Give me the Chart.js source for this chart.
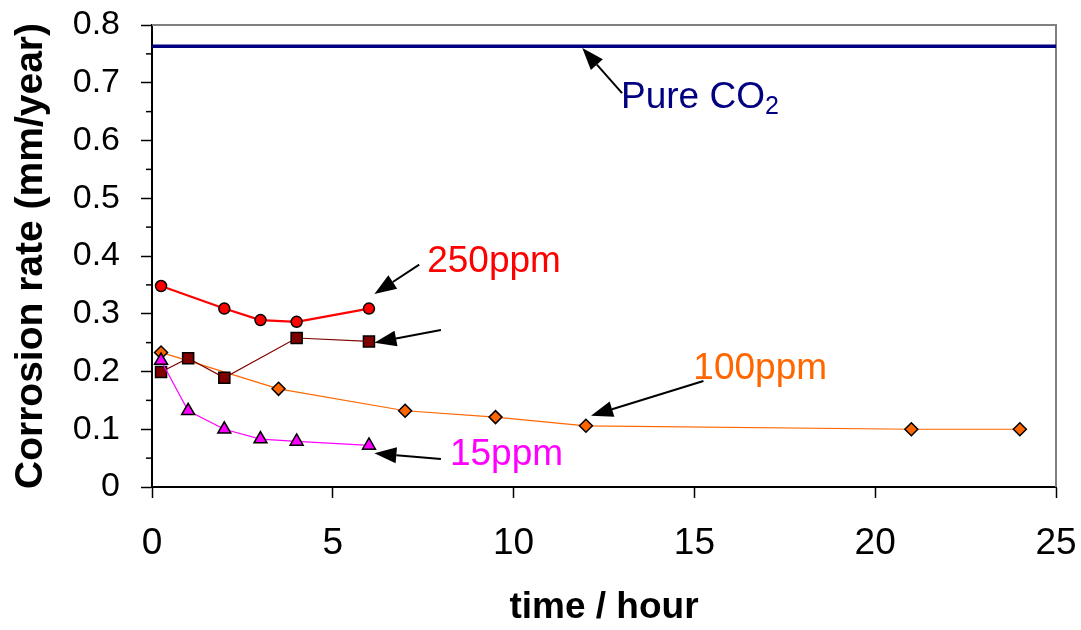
<!DOCTYPE html>
<html>
<head>
<meta charset="utf-8">
<script src="https://cdn.jsdelivr.net/npm/chart.js@4/dist/chart.umd.min.js"></script>
<style>
    html, body { margin: 0; padding: 0; background: #fff; }
    #wrap { width: 1081px; height: 630px; position: relative; }
</style>
</head>
<body>
<div id="wrap"><canvas id="corrosion-chart"></canvas></div>
<script>
// ==========================================
// DATA
// ==========================================
const hoursPure = [0, 25];
const ratePure = [0.763, 0.763];

const hours250 = [0.25, 2, 3, 4, 6];
const rate250 = [0.348, 0.309, 0.289, 0.286, 0.309];

const hoursSquare = [0.25, 1, 2, 4, 6];
const rateSquare = [0.199, 0.223, 0.189, 0.258, 0.252];

const hours100 = [0.25, 3.5, 7, 9.5, 12, 21, 24];
const rate100 = [0.233, 0.170, 0.132, 0.121, 0.106, 0.100, 0.100];

const hours15 = [0.25, 1, 2, 3, 4, 6];
const rate15 = [0.219, 0.132, 0.100, 0.083, 0.079, 0.072];

const xTickValues = [0, 5, 10, 15, 20, 25];
const yTickValues = [0, 0.1, 0.2, 0.3, 0.4, 0.5, 0.6, 0.7, 0.8];

// label text + arrow (data coords)
const noteLabels = [
    { text: 'Pure CO', sub: '2', color: '#000080', x: 12.97, y: 0.656 },
    { text: '250ppm', color: '#FF0000', x: 7.61, y: 0.372 },
    { text: '100ppm', color: '#FF6600', x: 14.97, y: 0.187 },
    { text: '15ppm', color: '#FF00FF', x: 8.24, y: 0.038 }
];
const noteArrows = [
    { from: [13.0, 0.682], to: [11.9, 0.760] },
    { from: [7.39, 0.385], to: [6.15, 0.334] },
    { from: [7.99, 0.272], to: [6.15, 0.250] },
    { from: [15.25, 0.1835], to: [12.14, 0.1235] },
    { from: [7.99, 0.0485], to: [6.15, 0.0584] }
];

const toPoints = (xs, ys) => xs.map((x, i) => ({ x: x, y: ys[i] }));
const FONT = "'Liberation Sans', Arial, sans-serif";

// scale box sizes fixed so the plot area lands where the picture has it
function fixBox(s, w, h) {
    if (w) s.width = w;
    if (h) s.height = h;
    s.paddingLeft = 0; s.paddingRight = 0; s.paddingTop = 0; s.paddingBottom = 0;
}

// ==========================================
// PLUGIN: frame, minor ticks, arrows, labels
// ==========================================
const extrasPlugin = {
    id: 'extras',
    beforeDatasetsDraw(chart) {
        const { ctx, chartArea: a } = chart;
        ctx.save();
        ctx.strokeStyle = '#808080';
        ctx.lineWidth = 2;
        ctx.beginPath();
        ctx.moveTo(a.left, a.top);
        ctx.lineTo(a.right, a.top);
        ctx.lineTo(a.right, a.bottom);
        ctx.stroke();

        // minor ticks on y axis
        const ys = chart.scales.y;
        ctx.strokeStyle = '#000';
        ctx.lineWidth = 1.5;
        for (let i = 0; i < yTickValues.length - 1; i++) {
            const py = ys.getPixelForValue((yTickValues[i] + yTickValues[i + 1]) / 2);
            ctx.beginPath();
            ctx.moveTo(a.left - 6, py);
            ctx.lineTo(a.left, py);
            ctx.stroke();
        }
        ctx.restore();
    },
    afterDatasetsDraw(chart) {
        const { ctx } = chart;
        const xs = chart.scales.x, ys = chart.scales.y;
        ctx.save();

        noteArrows.forEach(ar => {
            const x1 = xs.getPixelForValue(ar.from[0]), y1 = ys.getPixelForValue(ar.from[1]);
            const x2 = xs.getPixelForValue(ar.to[0]), y2 = ys.getPixelForValue(ar.to[1]);
            const ang = Math.atan2(y2 - y1, x2 - x1);
            const headLen = 22, headW = 8;
            const bx = x2 - headLen * Math.cos(ang), by = y2 - headLen * Math.sin(ang);
            ctx.strokeStyle = '#000';
            ctx.lineWidth = 2;
            ctx.beginPath();
            ctx.moveTo(x1, y1);
            ctx.lineTo(bx, by);
            ctx.stroke();
            ctx.fillStyle = '#000';
            ctx.beginPath();
            ctx.moveTo(x2, y2);
            ctx.lineTo(bx + headW * Math.sin(ang), by - headW * Math.cos(ang));
            ctx.lineTo(bx - headW * Math.sin(ang), by + headW * Math.cos(ang));
            ctx.closePath();
            ctx.fill();
        });

        ctx.textAlign = 'left';
        ctx.textBaseline = 'alphabetic';
        noteLabels.forEach(lb => {
            const px = xs.getPixelForValue(lb.x), py = ys.getPixelForValue(lb.y);
            ctx.fillStyle = lb.color;
            ctx.font = '37px ' + FONT;
            ctx.fillText(lb.text, px, py);
            if (lb.sub) {
                const w = ctx.measureText(lb.text).width;
                ctx.font = '25px ' + FONT;
                ctx.fillText(lb.sub, px + w, py + 6);
            }
        });
        ctx.restore();
    }
};

// ==========================================
// CHART
// ==========================================
const ctx = document.getElementById('corrosion-chart').getContext('2d');
const chart = new Chart(ctx, {
    type: 'line',
    data: {
        datasets: [
            { label: 'Pure CO2', data: toPoints(hoursPure, ratePure), borderColor: '#000080', borderWidth: 3.5, pointRadius: 0 },
            { label: '250ppm', data: toPoints(hours250, rate250), borderColor: '#FF0000', borderWidth: 2.2,
              pointStyle: 'circle', pointRadius: 5.5, pointBackgroundColor: '#FF0000', pointBorderColor: '#000', pointBorderWidth: 1.5 },
            { label: '15ppm', data: toPoints(hours15, rate15), borderColor: '#FF00FF', borderWidth: 1.2,
              pointStyle: 'triangle', pointRadius: 7.5, pointBackgroundColor: '#FF00FF', pointBorderColor: '#000', pointBorderWidth: 1.5 },
            { label: 'square', data: toPoints(hoursSquare, rateSquare), borderColor: '#800000', borderWidth: 1.2,
              pointStyle: 'rect', pointRadius: 7.8, pointBackgroundColor: '#800000', pointBorderColor: '#000', pointBorderWidth: 1.5 },
            { label: '100ppm', data: toPoints(hours100, rate100), borderColor: '#FF6600', borderWidth: 1.2,
              pointStyle: 'rectRot', pointRadius: 6.5, pointBackgroundColor: '#FF6600', pointBorderColor: '#000', pointBorderWidth: 1.5 }
        ]
    },
    options: {
        responsive: true, maintainAspectRatio: false,
        animation: false,
        layout: { padding: { left: 0, right: 25, top: 25, bottom: 0 } },
        plugins: { legend: { display: false }, tooltip: { enabled: false } },
        scales: {
            x: {
                type: 'linear', min: 0, max: 25,
                afterBuildTicks: s => { s.ticks = xTickValues.map(v => ({ value: v })); },
                afterFit: s => fixBox(s, 0, 143),
                grid: { drawOnChartArea: false, tickLength: 11, tickColor: '#000', tickWidth: 1.5 },
                border: { color: '#000', width: 2 },
                ticks: { color: '#000', padding: 24, maxRotation: 0, font: { family: FONT, size: 37 } },
                title: { display: true, text: 'time / hour', color: '#000', padding: { top: 0, bottom: 0 },
                         font: { family: FONT, size: 37, weight: 'bold' } }
            },
            y: {
                type: 'linear', min: 0, max: 0.8,
                afterBuildTicks: s => { s.ticks = yTickValues.map(v => ({ value: v })); },
                afterFit: s => fixBox(s, 152, 0),
                grid: { drawOnChartArea: false, tickLength: 11, tickColor: '#000', tickWidth: 1.5 },
                border: { color: '#000', width: 2 },
                ticks: { color: '#000', padding: 21, font: { family: FONT, size: 34 } },
                title: { display: true, text: 'Corrosion rate (mm/year)', color: '#000', padding: { top: 8, bottom: 0 },
                         font: { family: FONT, size: 39, weight: 'bold' } }
            }
        }
    },
    plugins: [extrasPlugin]
});
</script>
</body>
</html>
